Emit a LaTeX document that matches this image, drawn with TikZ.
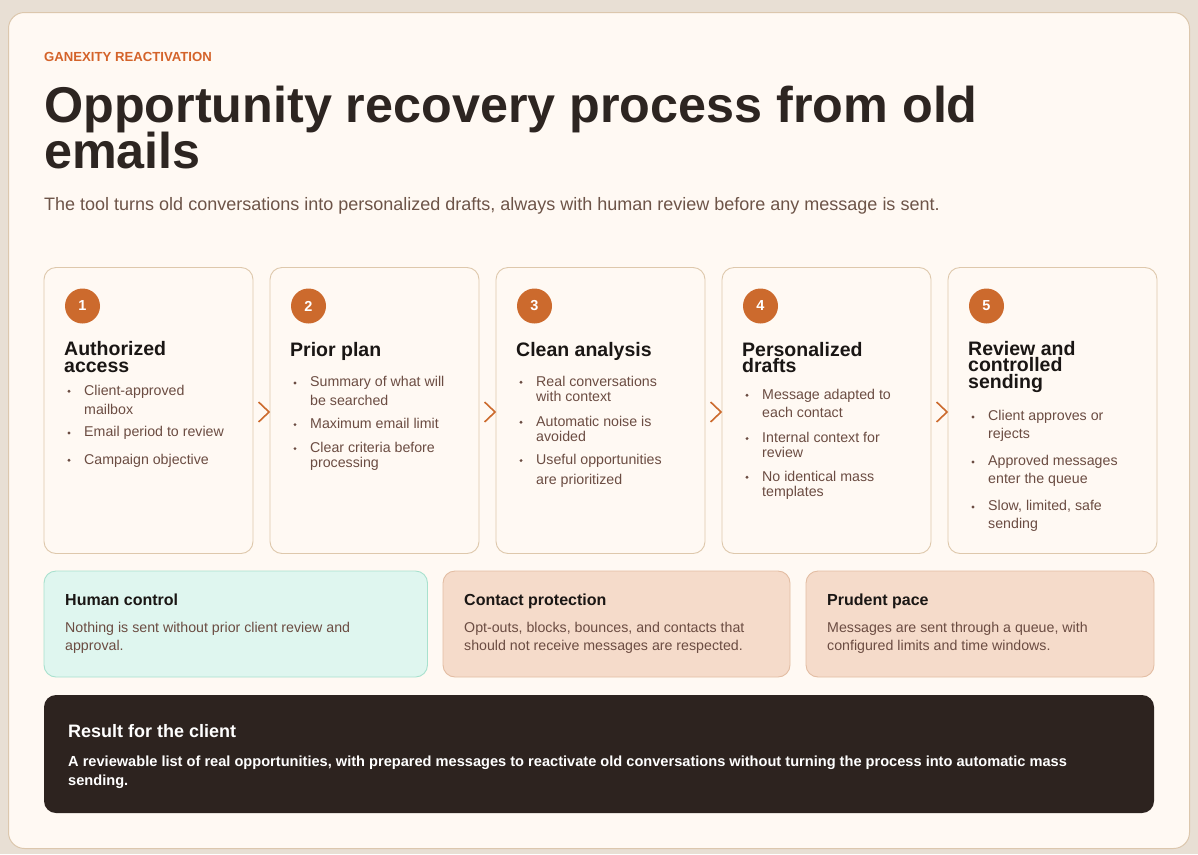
\documentclass[tikz,border=0pt]{standalone}
\usepackage{fontspec}
\setmainfont{Liberation Sans}
\usetikzlibrary{calc}
\definecolor{pagebg}{HTML}{E8DFD4}
\definecolor{cardbg}{HTML}{FFF9F3}
\definecolor{cardline}{HTML}{DCC7AD}
\definecolor{accent}{HTML}{CC6A2D}
\definecolor{kicker}{HTML}{D4632A}
\definecolor{ink}{HTML}{2D2521}
\definecolor{subtxt}{HTML}{6D5448}
\definecolor{stepline}{HTML}{DEC8AC}
\definecolor{steptitle}{HTML}{1A1614}
\definecolor{bullet}{HTML}{6B4C42}
\definecolor{tealbg}{HTML}{DFF6EF}
\definecolor{tealline}{HTML}{A8E1CE}
\definecolor{peachbg}{HTML}{F5DBCA}
\definecolor{peachline}{HTML}{E3BDA3}
\definecolor{darkbg}{HTML}{2D231F}
\newcommand\fsz[2]{\fontsize{#1}{#2}\selectfont}
\newcommand\bdot[1]{\fill[bullet] (25,#1-3.7) circle (1.6pt);}
\begin{document}
\begin{tikzpicture}[x=1pt,y=-1pt,
  stepbox/.style={draw=stepline, line width=0.9pt, fill=cardbg, rounded corners=12pt, minimum width=209pt, minimum height=286pt, inner sep=0pt},
  numdot/.style={circle, fill=accent, minimum size=35pt, inner sep=0pt, text=white, font=\bfseries\fsz{14.5}{16}},
  stitle/.style={anchor=base west, inner sep=0pt, text=steptitle, font=\bfseries\fsz{19.5}{17}},
  btxt/.style={anchor=base west, inner sep=0pt, text=bullet, font=\fsz{14.2}{17}},
  chev/.style={draw=accent, line width=1.6pt, line join=miter},
  infobox/.style={line width=0.9pt, rounded corners=12pt, minimum height=106pt, inner sep=0pt},
  ititle/.style={anchor=base west, inner sep=0pt, text=steptitle, font=\bfseries\fsz{16}{18}},
  itxt/.style={anchor=base west, inner sep=0pt, text=bullet, font=\fsz{14.2}{17}},
]
\useasboundingbox (0,0) rectangle (1198,854);
\fill[pagebg] (0,0) rectangle (1198,854);
\draw[draw=cardline, fill=cardbg, line width=1pt, rounded corners=16pt] (8.5,12.5) rectangle (1189.5,848.5);

% header
\node[anchor=base west, inner sep=0pt, text=kicker, font=\bfseries\fsz{13.15}{15}] (kick) at (44,61) {GANEXITY REACTIVATION};
\node[anchor=base west, inner sep=0pt, text=ink, font=\bfseries\fsz{50.3}{48}] (title1) at (44,122) {Opportunity recovery process from old};
\node[anchor=base west, inner sep=0pt, text=ink, font=\bfseries\fsz{50.3}{48}] (title2) at (44,168) {emails};
\node[anchor=base west, inner sep=0pt, text=subtxt, font=\fsz{18}{20}] (sub) at (44,210) {The tool turns old conversations into personalized drafts, always with human review before any message is sent.};

% step cards
\node[stepbox] (s1) at (148.5,410.5) {};
\node[stepbox] (s2) at (374.5,410.5) {};
\node[stepbox] (s3) at (600.5,410.5) {};
\node[stepbox] (s4) at (826.5,410.5) {};
\node[stepbox] (s5) at (1052.5,410.5) {};

% chevrons between cards
\foreach \a/\b in {s1/s2,s2/s3,s3/s4,s4/s5}{
  \draw[chev] ($(\b.west)+(-11,-8.5)$) -- ($(\b.west)+(-0.5,1.5)$) -- ($(\b.west)+(-11,11.5)$);
}

% card 1
\begin{scope}[xshift=44pt]
\node[numdot] (n1) at (38.5,306) {1};
\node[stitle] (c1t1) at (20,355) {Authorized};
\node[stitle] (c1t2) at (20,372) {access};
\bdot{395}\bdot{436.7}\bdot{464}
\node[btxt] (c1a) at (40,395) {Client-approved};
\node[btxt] (c1b) at (40,414) {mailbox};
\node[btxt] (c1c) at (40,436.7) {Email period to review};
\node[btxt] (c1d) at (40,464) {Campaign objective};
\end{scope}

% card 2
\begin{scope}[xshift=270pt]
\node[numdot] (n2) at (38.5,306) {2};
\node[stitle] (c2t1) at (20,356) {Prior plan};
\bdot{386.7}\bdot{428.3}\bdot{452.3}
\node[btxt] (c2a) at (40,386.7) {Summary of what will};
\node[btxt] (c2b) at (40,405) {be searched};
\node[btxt] (c2c) at (40,428.3) {Maximum email limit};
\node[btxt] (c2d) at (40,452.3) {Clear criteria before};
\node[btxt] (c2e) at (40,467.7) {processing};
\end{scope}

% card 3
\begin{scope}[xshift=496pt]
\node[numdot] (n3) at (38.5,306) {3};
\node[stitle] (c3t1) at (20,356) {Clean analysis};
\bdot{386}\bdot{426}\bdot{464.3}
\node[btxt] (c3a) at (40,386) {Real conversations};
\node[btxt] (c3b) at (40,401.7) {with context};
\node[btxt] (c3c) at (40,426) {Automatic noise is};
\node[btxt] (c3d) at (40,441.7) {avoided};
\node[btxt] (c3e) at (40,464.3) {Useful opportunities};
\node[btxt] (c3f) at (40,484) {are prioritized};
\end{scope}

% card 4
\begin{scope}[xshift=722pt]
\node[numdot] (n4) at (38.5,306) {4};
\node[stitle] (c4t1) at (20,356) {Personalized};
\node[stitle] (c4t2) at (20,372.3) {drafts};
\bdot{399}\bdot{442.3}\bdot{481}
\node[btxt] (c4a) at (40,399) {Message adapted to};
\node[btxt] (c4b) at (40,417.3) {each contact};
\node[btxt] (c4c) at (40,442.3) {Internal context for};
\node[btxt] (c4d) at (40,457.7) {review};
\node[btxt] (c4e) at (40,481) {No identical mass};
\node[btxt] (c4f) at (40,496) {templates};
\end{scope}

% card 5
\begin{scope}[xshift=948pt]
\node[numdot] (n5) at (38.5,306) {5};
\node[stitle] (c5t1) at (20,355.7) {Review and};
\node[stitle] (c5t2) at (20,371.7) {controlled};
\node[stitle] (c5t3) at (20,388) {sending};
\bdot{420.7}\bdot{465.7}\bdot{510.7}
\node[btxt] (c5a) at (40,420.7) {Client approves or};
\node[btxt] (c5b) at (40,438) {rejects};
\node[btxt] (c5c) at (40,465.7) {Approved messages};
\node[btxt] (c5d) at (40,483) {enter the queue};
\node[btxt] (c5e) at (40,510.7) {Slow, limited, safe};
\node[btxt] (c5f) at (40,528) {sending};
\end{scope}

% info boxes
\node[infobox, draw=tealline, fill=tealbg, minimum width=383.5pt] (hc) at (235.75,624) {};
\node[infobox, draw=peachline, fill=peachbg, minimum width=347pt] (cp) at (616.5,624) {};
\node[infobox, draw=peachline, fill=peachbg, minimum width=348pt] (pp) at (980,624) {};

\node[ititle] (hct) at (65,605) {Human control};
\node[itxt] (hca) at (65,632.3) {Nothing is sent without prior client review and};
\node[itxt] (hcb) at (65,650.7) {approval.};

\node[ititle] (cpt) at (464,605) {Contact protection};
\node[itxt] (cpa) at (464,632.3) {Opt-outs, blocks, bounces, and contacts that};
\node[itxt] (cpb) at (464,650.7) {should not receive messages are respected.};

\node[ititle] (ppt) at (827,605) {Prudent pace};
\node[itxt] (ppa) at (827,632.3) {Messages are sent through a queue, with};
\node[itxt] (ppb) at (827,650.7) {configured limits and time windows.};

% result box
\node[fill=darkbg, rounded corners=12pt, minimum width=1110pt, minimum height=118pt, inner sep=0pt] (res) at (599,754) {};
\node[anchor=base west, inner sep=0pt, text=white, font=\bfseries\fsz{18}{20}] (rest) at (68,737) {Result for the client};
\node[anchor=base west, inner sep=0pt, text=white, font=\bfseries\fsz{14.6}{17}] (resa) at (68,766) {A reviewable list of real opportunities, with prepared messages to reactivate old conversations without turning the process into automatic mass};
\node[anchor=base west, inner sep=0pt, text=white, font=\bfseries\fsz{14.6}{17}] (resb) at (68,785) {sending.};
\end{tikzpicture}
\end{document}
